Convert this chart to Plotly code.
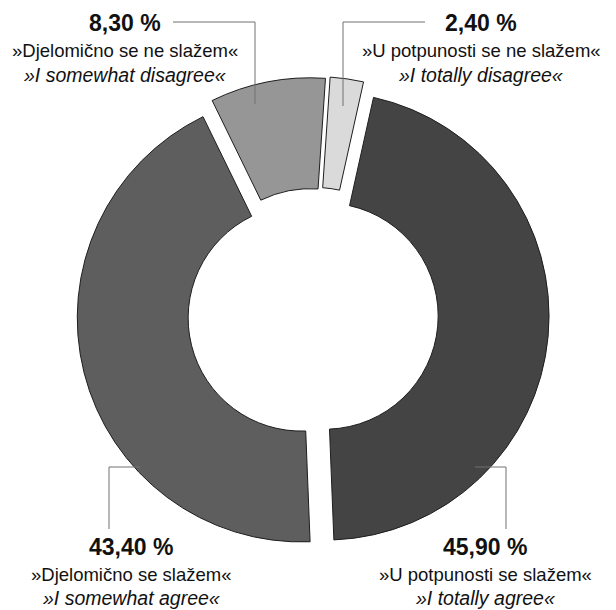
import plotly.graph_objects as go

# slices, clockwise from the top
values = [45.9, 43.4, 8.3, 2.4]
value_labels = ["45,90 %", "43,40 %", "8,30 %", "2,40 %"]
labels_hr = ["»U potpunosti se slažem«", "»Djelomično se slažem«",
             "»Djelomično se ne slažem«", "»U potpunosti se ne slažem«"]
labels_en = ["»I totally agree«", "»I somewhat agree«",
             "»I somewhat disagree«", "»I totally disagree«"]
colors = ["#444444", "#5e5e5e", "#969696", "#dadada"]

W, H = 616, 610
FONT = "Liberation Sans, Arial, sans-serif"
LINE = "#707070"

# donut geometry in pixels
cx, cy, R = 313, 315, 224
pulls = [0.054, 0.054, 0.06, 0.065]
half = R * (1 + max(pulls))

fig = go.Figure()

fig.add_trace(go.Pie(
    values=values,
    labels=labels_en,
    sort=False,
    direction="clockwise",
    rotation=12.5,
    hole=0.505,
    pull=pulls,
    marker=dict(colors=colors, line=dict(color="#1e1e1e", width=1)),
    textinfo="none",
    hoverinfo="label+value",
    showlegend=False,
    domain=dict(x=[(cx - half) / W, (cx + half) / W],
                y=[(H - cy - half) / H, (H - cy + half) / H]),
))

# label blocks: x centre and y of each of the three lines
label_x = [485, 131, 125, 481]
label_y = [[547, 574, 598], [547, 574, 598], [23, 50, 75], [23, 50, 75]]
for x, ys, v, hr, en in zip(label_x, label_y, value_labels, labels_hr, labels_en):
    fig.add_annotation(x=x, y=ys[0], text=f"<b>{v}</b>", showarrow=False,
                       font=dict(family=FONT, size=23, color="#111"))
    fig.add_annotation(x=x, y=ys[1], text=hr, showarrow=False,
                       font=dict(family=FONT, size=18.5, color="#111"))
    fig.add_annotation(x=x, y=ys[2], text=f"<i>{en}</i>", showarrow=False,
                       font=dict(family=FONT, size=19.5, color="#111"))

# elbow leader lines
leaders = [
    [(475, 467), (506, 467), (506, 529)],
    [(140, 467), (109, 467), (109, 529)],
    [(173, 22), (255, 22), (255, 104)],
    [(425, 22), (343, 22), (343, 106)],
]
for pts in leaders:
    for (x0, y0), (x1, y1) in zip(pts[:-1], pts[1:]):
        fig.add_shape(type="line", x0=x0, y0=y0, x1=x1, y1=y1,
                      xref="x", yref="y", line=dict(color=LINE, width=1))

# arrow heads
heads_x = [471, 144, 255, 343]
heads_y = [467, 467, 110, 111]
heads_sym = ["triangle-left", "triangle-right", "triangle-down", "triangle-down"]
fig.add_trace(go.Scatter(
    x=heads_x, y=heads_y, mode="markers",
    marker=dict(symbol=heads_sym, size=13, color="#111"),
    hoverinfo="skip", showlegend=False,
))

fig.update_layout(
    width=W, height=H,
    margin=dict(l=0, r=0, t=0, b=0),
    paper_bgcolor="white", plot_bgcolor="rgba(0,0,0,0)",
    xaxis=dict(range=[0, W], visible=False, domain=[0, 1], fixedrange=True),
    yaxis=dict(range=[H, 0], visible=False, domain=[0, 1], fixedrange=True),
)

fig.write_html("out.html", config={"displayModeBar": False},
               post_script="document.body.style.margin='0';")
